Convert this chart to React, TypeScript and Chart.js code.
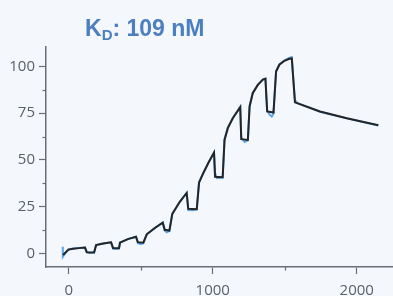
import React, { useEffect, useRef } from "react";
import { Chart, registerables } from "chart.js";

Chart.register(...registerables);

// Time (s) and response (RU) — fitted curve (black)
const fitTime = [-40, -2, 30, 70, 113, 125, 176, 190, 240, 294, 308, 349, 356, 410, 467, 480, 518, 542, 600, 653, 667, 699, 719, 771, 819, 830, 889, 905, 932, 970, 1009, 1016, 1069, 1082, 1105, 1140, 1191, 1198, 1244, 1256, 1278, 1313, 1348, 1366, 1378, 1422, 1440, 1463, 1498, 1532, 1549, 1571, 1745, 1931, 2150];
const fitResponse = [-0.9, 2.0, 2.5, 2.8, 3.1, 0.6, 0.5, 4.4, 5.3, 5.9, 2.8, 2.7, 5.7, 7.6, 8.9, 6.0, 5.7, 10.2, 13.7, 16.4, 12.6, 12.2, 21.0, 27.6, 32.3, 23.8, 23.6, 37.8, 42.5, 48.5, 53.9, 41.0, 40.7, 60.7, 67.0, 72.4, 78.2, 61.1, 60.7, 78.5, 85.7, 90.1, 93.0, 93.4, 75.9, 75.3, 97.3, 100.9, 103.0, 104.1, 104.3, 80.8, 75.9, 72.3, 68.5];

// Measured sensorgram (blue)
const dataTime = [-42, -41, -25, -2, 30, 70, 113, 122, 140, 176, 190, 240, 294, 308, 330, 349, 356, 410, 467, 480, 500, 518, 542, 600, 653, 665, 680, 699, 719, 771, 819, 830, 860, 889, 905, 932, 970, 1009, 1016, 1030, 1069, 1082, 1105, 1140, 1191, 1198, 1222, 1244, 1256, 1278, 1313, 1348, 1366, 1378, 1395, 1410, 1422, 1440, 1463, 1498, 1532, 1549, 1571, 1590, 1745, 1931, 2150];
const dataResponse = [3.5, -1.8, 0.0, 2.1, 2.6, 2.9, 3.1, 1.2, 0.2, 0.4, 4.4, 5.3, 5.9, 2.5, 2.4, 2.7, 5.8, 7.6, 8.9, 5.4, 4.9, 5.4, 10.3, 13.6, 16.4, 12.2, 11.2, 11.9, 21.2, 27.5, 32.4, 23.2, 23.0, 23.5, 38.2, 42.6, 48.4, 54.0, 43.0, 40.2, 40.5, 61.2, 67.5, 72.4, 78.3, 62.0, 59.6, 60.4, 79.0, 86.0, 90.2, 93.0, 93.6, 76.5, 74.2, 73.2, 74.9, 97.5, 101.2, 103.2, 104.5, 105.0, 82.0, 80.3, 75.8, 72.2, 68.4];

// Tick values (labelled ones get text; others are minor ticks)
const xTickValues = [0, 500, 1000, 1500, 2000];
const xTickLabels = ["0", "", "1000", "", "2000"];
const yTickValues = [0, 12.5, 25, 37.5, 50, 62.5, 75, 87.5, 100];
const yTickLabels = ["0", "", "25", "", "50", "", "75", "", "100"];

const AXIS_COLOR = "#6a6e74";
const TEXT_COLOR = "#5b6068";

const isMajorX = (v: number) => xTickLabels[xTickValues.indexOf(v)] !== "";
const isMajorY = (v: number) => yTickLabels[yTickValues.indexOf(v)] !== "";

const minorTicks = {
  id: "minorTicks",
  afterDraw(chart: any) {
    const ctx = chart.ctx;
    const xs = chart.scales.x;
    const ys = chart.scales.y;
    ctx.save();
    ctx.strokeStyle = AXIS_COLOR;
    ctx.lineWidth = 1.2;
    ys.ticks.forEach((t: any) => {
      if (!isMajorY(t.value)) {
        const py = Math.round(ys.getPixelForValue(t.value)) + 0.5;
        ctx.beginPath();
        ctx.moveTo(ys.right - 3.5, py);
        ctx.lineTo(ys.right, py);
        ctx.stroke();
      }
    });
    xs.ticks.forEach((t: any) => {
      if (!isMajorX(t.value)) {
        const px = Math.round(xs.getPixelForValue(t.value)) + 0.5;
        ctx.beginPath();
        ctx.moveTo(px, xs.top);
        ctx.lineTo(px, xs.top + 3.5);
        ctx.stroke();
      }
    });
    ctx.restore();
  },
};

export default function App() {
  const ref = useRef<HTMLCanvasElement | null>(null);

  useEffect(() => {
    document.body.style.margin = "0";
    document.body.style.background = "#f4f7fc";
    const canvas = ref.current;
    if (!canvas) return;
    const chart = new Chart(canvas, {
      type: "line",
      data: {
        datasets: [
          {
            label: "Fit",
            data: fitTime.map((t, i) => ({ x: t, y: fitResponse[i] })),
            borderColor: "#232527",
            borderWidth: 2,
            pointRadius: 0,
            tension: 0,
            order: 0,
          },
          {
            label: "Data",
            data: dataTime.map((t, i) => ({ x: t, y: dataResponse[i] })),
            borderColor: "#5aa8e8",
            borderWidth: 2,
            pointRadius: 0,
            tension: 0,
            order: 1,
          },
        ],
      },
      options: {
        responsive: false,
        animation: false,
        layout: { padding: { top: 47, right: 0, left: 0, bottom: 0 } },
        plugins: {
          legend: { display: false },
          tooltip: { enabled: false },
          title: { display: false },
        },
        scales: {
          x: {
            type: "linear",
            min: -158,
            max: 2252,
            border: { color: AXIS_COLOR, width: 1.5 },
            grid: {
              drawOnChartArea: false,
              drawTicks: true,
              tickLength: 7,
              tickWidth: 1.2,
              tickColor: (c: any) =>
                c.tick && isMajorX(c.tick.value) ? AXIS_COLOR : "rgba(0,0,0,0)",
            },
            afterBuildTicks: (s: any) => {
              s.ticks = xTickValues.map((v) => ({ value: v }));
            },
            ticks: {
              autoSkip: false,
              maxRotation: 0,
              padding: 8,
              color: TEXT_COLOR,
              font: { family: "'Open Sans', sans-serif", size: 15 },
              callback: (v: any) => {
                const i = xTickValues.indexOf(Number(v));
                return i >= 0 ? xTickLabels[i] : "";
              },
            },
            afterFit: (s: any) => {
              s.height = 29;
            },
          },
          y: {
            type: "linear",
            min: -7.3,
            max: 110.4,
            border: { color: AXIS_COLOR, width: 1.5 },
            grid: {
              drawOnChartArea: false,
              drawTicks: true,
              tickLength: 7,
              tickWidth: 1.2,
              tickColor: (c: any) =>
                c.tick && isMajorY(c.tick.value) ? AXIS_COLOR : "rgba(0,0,0,0)",
            },
            afterBuildTicks: (s: any) => {
              s.ticks = yTickValues.map((v) => ({ value: v }));
            },
            ticks: {
              autoSkip: false,
              padding: 4,
              color: TEXT_COLOR,
              font: { family: "'Open Sans', sans-serif", size: 15 },
              callback: (v: any) => {
                const i = yTickValues.indexOf(Number(v));
                return i >= 0 ? yTickLabels[i] : "";
              },
            },
            afterFit: (s: any) => {
              s.width = 46;
            },
          },
        },
      },
      plugins: [minorTicks],
    });
    return () => chart.destroy();
  }, []);

  return (
    <div
      style={{
        position: "fixed",
        left: 0,
        top: 0,
        width: 393,
        height: 296,
        background: "#f4f7fc",
        overflow: "hidden",
      }}
    >
      <canvas ref={ref} width={393} height={296} style={{ position: "absolute", left: 0, top: 0 }} />
      <div
        style={{
          position: "absolute",
          left: 85,
          top: 16.5,
          fontFamily: "'Liberation Sans', Arial, sans-serif",
          fontWeight: 700,
          fontSize: 23,
          lineHeight: "23px",
          color: "#4b7fc0",
          whiteSpace: "nowrap",
        }}
      >
        K
        <span style={{ fontSize: 15, position: "relative", top: 4 }}>D</span>
        : 109 nM
      </div>
    </div>
  );
}
